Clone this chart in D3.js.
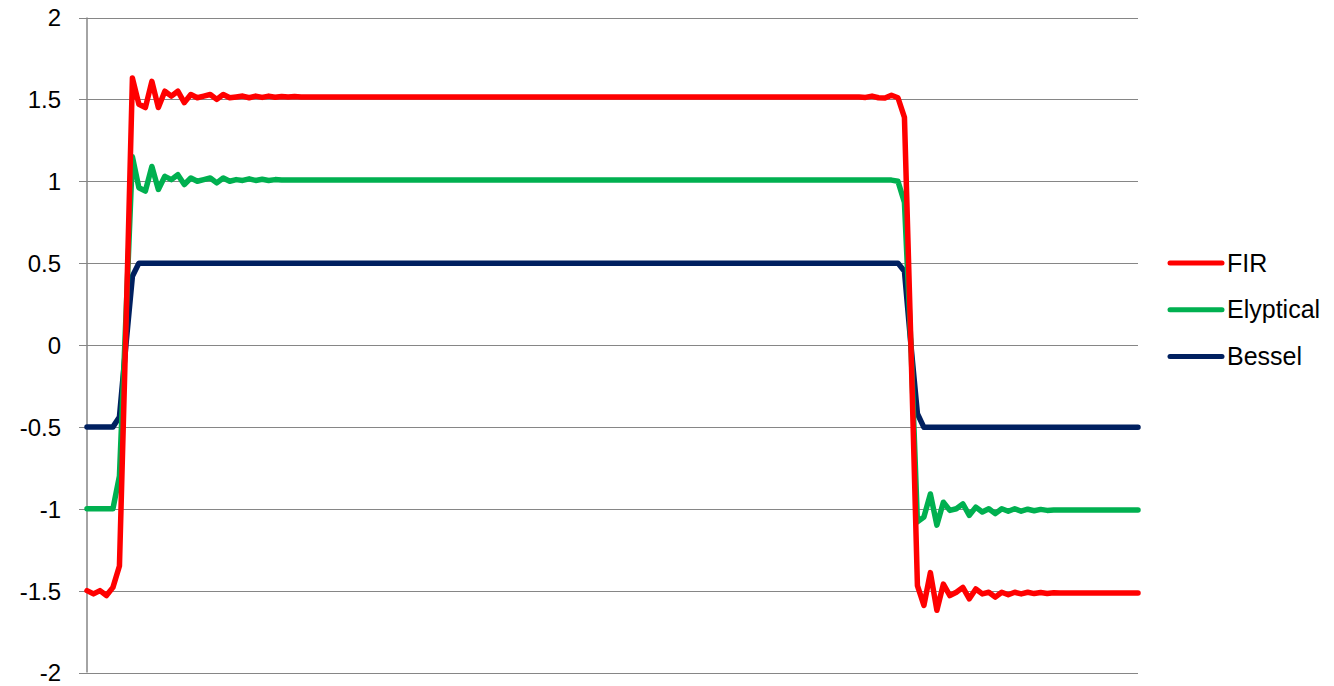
<!DOCTYPE html>
<html>
<head>
<meta charset="utf-8">
<script src="https://cdn.jsdelivr.net/npm/d3@7/dist/d3.min.js"></script>
<style>
  html, body { margin: 0; padding: 0; background: #fff; }
  svg { display: block; }
  text { font-family: "Liberation Sans", Arial, sans-serif; fill: #000; }
</style>
</head>
<body>
<svg id="chart" width="1334" height="686"></svg>
<script>
// Step responses of three filters, one sample per category
const seriesNames = ["FIR", "Elyptical", "Bessel"];

const firValues = [
  -1.50, -1.52, -1.50, -1.53, -1.48, -1.35, 0.10, 1.63, 1.47, 1.45,
  1.61, 1.45, 1.55, 1.52, 1.55, 1.48, 1.53, 1.51, 1.52, 1.53,
  1.50, 1.53, 1.51, 1.515, 1.52, 1.51, 1.52, 1.512, 1.52, 1.513,
  1.518, 1.514, 1.517, 1.515, 1.515, 1.515, 1.515, 1.515, 1.515, 1.515,
  1.515, 1.515, 1.515, 1.515, 1.515, 1.515, 1.515, 1.515, 1.515, 1.515,
  1.515, 1.515, 1.515, 1.515, 1.515, 1.515, 1.515, 1.515, 1.515, 1.515,
  1.515, 1.515, 1.515, 1.515, 1.515, 1.515, 1.515, 1.515, 1.515, 1.515,
  1.515, 1.515, 1.515, 1.515, 1.515, 1.515, 1.515, 1.515, 1.515, 1.515,
  1.515, 1.515, 1.515, 1.515, 1.515, 1.515, 1.515, 1.515, 1.515, 1.515,
  1.515, 1.515, 1.515, 1.515, 1.515, 1.515, 1.515, 1.515, 1.515, 1.515,
  1.515, 1.515, 1.515, 1.515, 1.515, 1.515, 1.515, 1.515, 1.515, 1.515,
  1.515, 1.515, 1.515, 1.515, 1.515, 1.515, 1.515, 1.515, 1.515, 1.515,
  1.512, 1.52, 1.51, 1.508, 1.525, 1.51, 1.39, 0.0, -1.47, -1.59,
  -1.39, -1.62, -1.46, -1.53, -1.51, -1.48, -1.55, -1.49, -1.52, -1.51,
  -1.54, -1.51, -1.525, -1.51, -1.52, -1.51, -1.518, -1.512, -1.518, -1.513,
  -1.515, -1.515, -1.515, -1.515, -1.515, -1.515, -1.515, -1.515, -1.515, -1.515,
  -1.515, -1.515, -1.515
];

const elypticalValues = [
  -1.0, -1.0, -1.0, -1.0, -1.0, -0.80, 0.17, 1.15, 0.96, 0.94,
  1.09, 0.95, 1.03, 1.01, 1.04, 0.98, 1.02, 1.00, 1.01, 1.02,
  0.99, 1.02, 1.00, 1.01, 1.005, 1.015, 1.005, 1.012, 1.005, 1.01,
  1.007, 1.007, 1.007, 1.007, 1.007, 1.007, 1.007, 1.007, 1.007, 1.007,
  1.007, 1.007, 1.007, 1.007, 1.007, 1.007, 1.007, 1.007, 1.007, 1.007,
  1.007, 1.007, 1.007, 1.007, 1.007, 1.007, 1.007, 1.007, 1.007, 1.007,
  1.007, 1.007, 1.007, 1.007, 1.007, 1.007, 1.007, 1.007, 1.007, 1.007,
  1.007, 1.007, 1.007, 1.007, 1.007, 1.007, 1.007, 1.007, 1.007, 1.007,
  1.007, 1.007, 1.007, 1.007, 1.007, 1.007, 1.007, 1.007, 1.007, 1.007,
  1.007, 1.007, 1.007, 1.007, 1.007, 1.007, 1.007, 1.007, 1.007, 1.007,
  1.007, 1.007, 1.007, 1.007, 1.007, 1.007, 1.007, 1.007, 1.007, 1.007,
  1.007, 1.007, 1.007, 1.007, 1.007, 1.007, 1.007, 1.007, 1.007, 1.007,
  1.007, 1.007, 1.007, 1.007, 1.007, 1.0, 0.87, 0.0, -1.08, -1.05,
  -0.91, -1.10, -0.96, -1.01, -1.00, -0.97, -1.04, -0.99, -1.02, -1.00,
  -1.03, -1.00, -1.015, -1.00, -1.015, -1.003, -1.012, -1.004, -1.01, -1.007,
  -1.007, -1.007, -1.007, -1.007, -1.007, -1.007, -1.007, -1.007, -1.007, -1.007,
  -1.007, -1.007, -1.007
];

const besselValues = [
  -0.5, -0.5, -0.5, -0.5, -0.5, -0.44, 0.0, 0.42, 0.5, 0.5,
  0.5, 0.5, 0.5, 0.5, 0.5, 0.5, 0.5, 0.5, 0.5, 0.5,
  0.5, 0.5, 0.5, 0.5, 0.5, 0.5, 0.5, 0.5, 0.5, 0.5,
  0.5, 0.5, 0.5, 0.5, 0.5, 0.5, 0.5, 0.5, 0.5, 0.5,
  0.5, 0.5, 0.5, 0.5, 0.5, 0.5, 0.5, 0.5, 0.5, 0.5,
  0.5, 0.5, 0.5, 0.5, 0.5, 0.5, 0.5, 0.5, 0.5, 0.5,
  0.5, 0.5, 0.5, 0.5, 0.5, 0.5, 0.5, 0.5, 0.5, 0.5,
  0.5, 0.5, 0.5, 0.5, 0.5, 0.5, 0.5, 0.5, 0.5, 0.5,
  0.5, 0.5, 0.5, 0.5, 0.5, 0.5, 0.5, 0.5, 0.5, 0.5,
  0.5, 0.5, 0.5, 0.5, 0.5, 0.5, 0.5, 0.5, 0.5, 0.5,
  0.5, 0.5, 0.5, 0.5, 0.5, 0.5, 0.5, 0.5, 0.5, 0.5,
  0.5, 0.5, 0.5, 0.5, 0.5, 0.5, 0.5, 0.5, 0.5, 0.5,
  0.5, 0.5, 0.5, 0.5, 0.5, 0.5, 0.45, 0.0, -0.42, -0.503,
  -0.503, -0.503, -0.503, -0.503, -0.503, -0.503, -0.503, -0.503, -0.503, -0.503,
  -0.503, -0.503, -0.503, -0.503, -0.503, -0.503, -0.503, -0.503, -0.503, -0.503,
  -0.503, -0.503, -0.503, -0.503, -0.503, -0.503, -0.503, -0.503, -0.503, -0.503,
  -0.503, -0.503, -0.503
];

const yTickValues = [-2, -1.5, -1, -0.5, 0, 0.5, 1, 1.5, 2];
const yTickLabels = ["-2", "-1.5", "-1", "-0.5", "0", "0.5", "1", "1.5", "2"];

const seriesColors = { "FIR": "#ff0000", "Elyptical": "#00b050", "Bessel": "#002060" };

const series = [
  { name: "FIR", values: firValues },
  { name: "Elyptical", values: elypticalValues },
  { name: "Bessel", values: besselValues }
];

const svg = d3.select("#chart");
const plot = { left: 87, right: 1138, top: 17.5, bottom: 672.5 };

const x = d3.scaleLinear()
  .domain([0, firValues.length - 1])
  .range([plot.left, plot.right]);

const y = d3.scaleLinear()
  .domain([-2, 2])
  .range([plot.bottom, plot.top]);

// Horizontal gridlines with small outward ticks and labels
const yAxis = d3.axisLeft(y)
  .tickValues(yTickValues)
  .tickFormat((d, i) => yTickLabels[i])
  .tickSize(-(plot.right - plot.left));

const gAxis = svg.append("g")
  .attr("transform", `translate(${plot.left},0)`)
  .call(yAxis);

gAxis.select(".domain").remove();
gAxis.selectAll(".tick line")
  .attr("x1", -8)
  .attr("stroke", "#868686")
  .attr("stroke-width", 1)
  .attr("shape-rendering", "crispEdges");
gAxis.selectAll(".tick text")
  .attr("x", -26)
  .attr("dy", "0.35em")
  .style("font-size", "24px")
  .style("fill", "#000");

// Vertical axis line
svg.append("line")
  .attr("x1", plot.left).attr("x2", plot.left)
  .attr("y1", plot.top).attr("y2", plot.bottom)
  .attr("stroke", "#868686")
  .attr("stroke-width", 1.5);

// Series lines; FIR is drawn last so it sits on top
const line = d3.line()
  .x((d, i) => x(i))
  .y(d => y(d));

svg.append("g")
  .selectAll("path")
  .data(series.slice().reverse())
  .join("path")
  .attr("d", d => line(d.values))
  .attr("fill", "none")
  .attr("stroke", d => seriesColors[d.name])
  .attr("stroke-width", 5.5)
  .attr("stroke-linejoin", "round")
  .attr("stroke-linecap", "round");

// Legend
const legend = svg.append("g")
  .attr("transform", "translate(1168,263)");

const legendItem = legend.selectAll("g")
  .data(seriesNames)
  .join("g")
  .attr("transform", (d, i) => `translate(0,${i * 46.7})`);

legendItem.append("line")
  .attr("x1", 2).attr("x2", 54)
  .attr("y1", 0).attr("y2", 0)
  .attr("stroke", d => seriesColors[d])
  .attr("stroke-width", 5)
  .attr("stroke-linecap", "round");

legendItem.append("text")
  .attr("x", 59)
  .attr("dy", "0.35em")
  .style("font-size", "25px")
  .text(d => d);
</script>
</body>
</html>
